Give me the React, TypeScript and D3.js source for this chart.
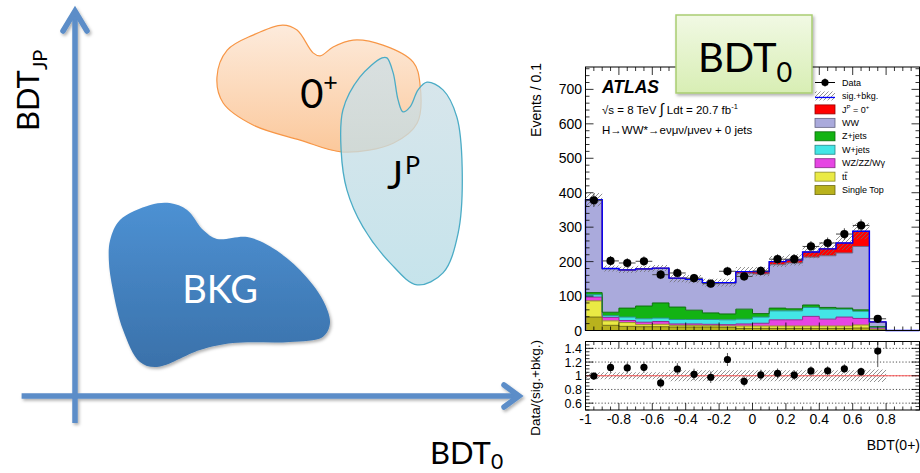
import React from "react";
import * as d3 from "d3";

// ---------- Schematic (BDT_0 vs BDT_JP plane), outlines in BDT score units ----------
const blobBkg: [number, number][] = [
  [0.079, 0.404], [0.101, 0.456], [0.169, 0.495], [0.213, 0.5], [0.252, 0.482],
  [0.288, 0.43], [0.319, 0.407], [0.387, 0.412], [0.445, 0.383], [0.506, 0.326],
  [0.557, 0.249], [0.573, 0.189], [0.557, 0.153], [0.483, 0.14], [0.355, 0.137],
  [0.281, 0.119], [0.184, 0.075], [0.146, 0.088], [0.108, 0.171], [0.085, 0.275],
  [0.076, 0.352],
];
const blob0p: [number, number][] = [
  [0.319, 0.826], [0.342, 0.896], [0.4, 0.935], [0.467, 0.961], [0.499, 0.948],
  [0.535, 0.889], [0.551, 0.881], [0.58, 0.904], [0.625, 0.922], [0.692, 0.909],
  [0.76, 0.865], [0.775, 0.811], [0.769, 0.707], [0.715, 0.655], [0.602, 0.632],
  [0.506, 0.663], [0.4, 0.702], [0.333, 0.759],
];
const blobJP: [number, number][] = [
  [0.69, 0.876], [0.64, 0.826], [0.602, 0.741], [0.598, 0.637], [0.611, 0.534],
  [0.647, 0.438], [0.708, 0.345], [0.769, 0.288], [0.827, 0.319], [0.861, 0.422],
  [0.87, 0.593], [0.858, 0.723], [0.827, 0.793], [0.791, 0.813], [0.771, 0.793],
  [0.753, 0.749], [0.737, 0.736], [0.726, 0.767], [0.715, 0.837], [0.701, 0.876],
];

// ---------- Histogram: BDT(0+) distribution, 0.1-wide bins ----------
const binLowEdges = [-1.0, -0.9, -0.8, -0.7, -0.6, -0.5, -0.4, -0.3, -0.2, -0.1, 0.0, 0.1, 0.2, 0.3, 0.4, 0.5, 0.6, 0.7];
const binWidth = 0.1;
const dataCounts = [378, 202, 196, 201, 162, 167, 152, 136, 172, 157, 173, 207, 207, 244, 254, 280, 305, 34];
const singleTop = [39, 15, 12, 11, 11, 10, 10, 10, 9, 6, 6, 6, 6, 6, 6, 6, 7, 2];
const ttbar = [47, 13, 11, 6, 7, 5, 5, 4, 4, 7, 7, 7, 7, 7, 7, 7, 9, 2];
const diboson = [11, 10, 6, 7, 8, 4, 4, 4, 4, 6, 8, 18, 18, 28, 20, 26, 19, 4];
const wJets = [7, 5, 10, 10, 10, 13, 13, 14, 14, 14, 18, 26, 26, 26, 29, 23, 21, 2];
const zJets = [6, 10, 26, 37, 44, 36, 27, 19, 17, 29, 10, 8, 6, 7, 5, 3, 4, 1];
const wwBkg = [269, 126, 110, 107, 100, 83, 89, 87, 89, 104, 115, 126, 133, 139, 150, 160, 184, 13];
const signal0p = [1, 1, 1, 1, 1, 1, 1, 1, 2, 5, 7, 9, 9, 15, 20, 29, 44, 1];
const relSyst = [0.05, 0.05, 0.05, 0.05, 0.05, 0.08, 0.08, 0.08, 0.08, 0.08, 0.08, 0.08, 0.08, 0.08, 0.08, 0.08, 0.08, 0.09];

const mainYTicks = [0, 100, 200, 300, 400, 500, 600, 700];
const ratioYTicks = [0.6, 0.8, 1, 1.2, 1.4];
const ratioYLabels = ["0.6", "0.8", "1", "1.2", "1.4"];
const xTicks = [-1, -0.8, -0.6, -0.4, -0.2, 0, 0.2, 0.4, 0.6, 0.8];
const xTickLabels = ["-1", "-0.8", "-0.6", "-0.4", "-0.2", "0", "0.2", "0.4", "0.6", "0.8"];

const stackKeys = ["singleTop", "ttbar", "diboson", "wJets", "zJets", "ww", "signal"];
const stackColors: Record<string, string> = {
  singleTop: "#b9b21d",
  ttbar: "#eaea44",
  diboson: "#e645e3",
  wJets: "#43e6e6",
  zJets: "#13b313",
  ww: "#aaaadc",
  signal: "#ff0000",
};
const legendRows = [
  { key: "data", label: "Data" },
  { key: "total", label: "sig.+bkg." },
  { key: "signal", label: "JP0" },
  { key: "ww", label: "WW" },
  { key: "zJets", label: "Z+jets" },
  { key: "wJets", label: "W+jets" },
  { key: "diboson", label: "WZ/ZZ/W\u03b3" },
  { key: "ttbar", label: "tt" },
  { key: "singleTop", label: "Single Top" },
];

const ROOT_FONT = "'Liberation Sans', Arial, Helvetica, sans-serif";
const SLIDE_FONT = "Lato, 'Open Sans', sans-serif";

export default function App() {
  // schematic scales
  const sx = d3.scaleLinear().domain([0, 1]).range([75, 520]);
  const sy = d3.scaleLinear().domain([0, 1]).range([396, 10]);
  const blobPath = d3
    .line<[number, number]>()
    .x((d) => sx(d[0]))
    .y((d) => sy(d[1]))
    .curve(d3.curveCatmullRomClosed.alpha(0.5));

  // histogram scales
  const x = d3.scaleLinear().domain([-1, 1]).range([585.5, 919.5]);
  const yM = d3.scaleLinear().domain([0, 765]).range([330.5, 67]);
  const yR = d3.scaleLinear().domain([0.5, 1.5]).range([410, 341.5]);

  const table = binLowEdges.map((lo, i) => ({
    lo,
    singleTop: singleTop[i],
    ttbar: ttbar[i],
    diboson: diboson[i],
    wJets: wJets[i],
    zJets: zJets[i],
    ww: wwBkg[i],
    signal: signal0p[i],
  }));
  const series = d3.stack<any>().keys(stackKeys)(table);
  const totals = table.map((_, i) => series[series.length - 1][i][1]);
  const lastEdge = binLowEdges[binLowEdges.length - 1] + binWidth;

  type StepPt = { e: number; a: number; b: number };
  const withEnd = (pts: StepPt[]) => [...pts, { ...pts[pts.length - 1], e: lastEdge }];

  const stepArea = (yScale: d3.ScaleLinear<number, number>) =>
    d3
      .area<StepPt>()
      .x((d) => x(d.e))
      .y0((d) => yScale(d.a))
      .y1((d) => yScale(d.b))
      .curve(d3.curveStepAfter);
  const stepLine = d3
    .line<StepPt>()
    .x((d) => x(d.e))
    .y((d) => yM(d.b))
    .curve(d3.curveStepAfter);

  const layerPts = series.map((s) =>
    withEnd(s.map((d, i) => ({ e: binLowEdges[i], a: d[0], b: d[1] })))
  );

  const bandPts = withEnd(
    totals.map((t, i) => ({ e: binLowEdges[i], a: t * (1 - relSyst[i]), b: t * (1 + relSyst[i]) }))
  );
  const ratioBandPts = withEnd(
    totals.map((_, i) => ({ e: binLowEdges[i], a: 1 - relSyst[i], b: 1 + relSyst[i] }))
  );

  const totalOutline: StepPt[] = [
    { e: -1, a: 0, b: 0 },
    ...totals.map((t, i) => ({ e: binLowEdges[i], a: 0, b: t })),
    { e: lastEdge, a: 0, b: 0 },
    { e: 1, a: 0, b: 0 },
  ];

  const minorX = d3.range(-1, 1.0001, 0.05);
  const minorYM = d3.range(0, 765, 20);
  const minorYR = d3.range(0.5, 1.5001, 0.05);

  const legendY0 = 82.5;
  const legendDy = 13.45;

  const tick = (k: string, x1: number, y1: number, x2: number, y2: number) => (
    <line key={k} x1={x1} y1={y1} x2={x2} y2={y2} stroke="#000" strokeWidth={0.8} />
  );

  return (
    <svg
      width={920}
      height={473}
      style={{ position: "absolute", left: 0, top: 0, background: "#fff" }}
      xmlns="http://www.w3.org/2000/svg"
    >
      <defs>
        <linearGradient id="gBkg" x1="0" y1="0" x2="0" y2="1">
          <stop offset="0" stopColor="#4d91d3" />
          <stop offset="1" stopColor="#3a71aa" />
        </linearGradient>
        <linearGradient id="g0p" x1="0" y1="0" x2="0" y2="1">
          <stop offset="0" stopColor="#fdebdc" />
          <stop offset="1" stopColor="#fbc89b" />
        </linearGradient>
        <linearGradient id="gJP" x1="0" y1="0" x2="0" y2="1">
          <stop offset="0" stopColor="#cfdfe6" />
          <stop offset="1" stopColor="#b6dce6" />
        </linearGradient>
        <linearGradient id="gBox" x1="0" y1="0" x2="0" y2="1">
          <stop offset="0" stopColor="#f1f9e4" />
          <stop offset="1" stopColor="#d8eeb4" />
        </linearGradient>
        <filter id="shadow" x="-20%" y="-20%" width="140%" height="140%">
          <feDropShadow dx="1.5" dy="2" stdDeviation="1.5" floodColor="#000" floodOpacity="0.3" />
        </filter>
        <pattern id="hatch" patternUnits="userSpaceOnUse" width="4" height="4">
          <path d="M-1,1 l2,-2 M0,4 l4,-4 M3,5 l2,-2" stroke="#6e6e6e" strokeWidth={0.75} />
        </pattern>
        <clipPath id="ratioClip">
          <rect x={x(-1)} y={yR(1.5)} width={x(1) - x(-1)} height={yR(0.5) - yR(1.5)} />
        </clipPath>
      </defs>

      {/* ================= Schematic plane ================= */}
      <g filter="url(#shadow)" stroke="#5b8dc8" strokeWidth={5.5} fill="none" strokeLinecap="butt">
        <line x1={sx(0)} y1={sy(-0.07)} x2={sx(0)} y2={sy(1) + 3} />
        <line x1={sx(-0.12)} y1={sy(0)} x2={sx(1) - 3} y2={sy(0)} />
        <polyline
          points={`${sx(0) - 12},${sy(1) + 21} ${sx(0)},${sy(1) + 1} ${sx(0) + 12},${sy(1) + 21}`}
          strokeLinejoin="miter"
          strokeLinecap="round"
        />
        <polyline
          points={`${sx(1) - 16},${sy(0) - 11} ${sx(1) - 1},${sy(0)} ${sx(1) - 16},${sy(0) + 11}`}
          strokeLinejoin="miter"
          strokeLinecap="round"
        />
      </g>

      <path d={blobPath(blob0p) || ""} fill="url(#g0p)" stroke="#f79646" strokeWidth={1.2} />
      <path d={blobPath(blobJP) || ""} fill="url(#gJP)" fillOpacity={0.78} stroke="#4bacc6" strokeWidth={1.3} />
      <path d={blobPath(blobBkg) || ""} fill="url(#gBkg)" filter="url(#shadow)" />

      <text x={sx(0.326)} y={sy(0.241)} fill="#fff" fontFamily={SLIDE_FONT} fontSize={38} textAnchor="middle">
        BKG
      </text>
      <text x={sx(0.506)} y={sy(0.746)} fill="#000" fontFamily={SLIDE_FONT} fontSize={40}>
        0<tspan fontSize={25} dy={-17}>+</tspan>
      </text>
      <text x={sx(0.701)} y={sy(0.535)} fill="#000" fontFamily={SLIDE_FONT} fontSize={38}>
        J<tspan fontSize={25} dy={-15} dx={2}>P</tspan>
      </text>

      <text transform="translate(39,131) rotate(-90)" fill="#000" fontFamily={SLIDE_FONT} fontSize={31}>
        BDT<tspan fontSize={20} dy={8}>JP</tspan>
      </text>
      <text x={430} y={464} fill="#000" fontFamily={SLIDE_FONT} fontSize={31}>
        BDT<tspan fontSize={21} dy={5}>0</tspan>
      </text>

      {/* ================= Main histogram panel ================= */}
      <g>
        {series.map((s, li) => (
          <path key={`a${s.key}`} d={stepArea(yM)(layerPts[li]) || ""} fill={stackColors[s.key]} />
        ))}
        {series.map((s, li) => (
          <path
            key={`l${s.key}`}
            d={stepLine(layerPts[li]) || ""}
            fill="none"
            stroke={d3.color(stackColors[s.key])!.darker(1.3).formatHex()}
            strokeWidth={1}
          />
        ))}
        <path d={stepArea(yM)(bandPts) || ""} fill="url(#hatch)" />
        <path d={stepLine(totalOutline) || ""} fill="none" stroke="#0000ff" strokeWidth={1.4} />

        {dataCounts.map((n, i) => {
          const c = binLowEdges[i] + binWidth / 2;
          const e = Math.sqrt(n);
          return (
            <g key={`d${i}`}>
              <line x1={x(binLowEdges[i])} x2={x(binLowEdges[i] + binWidth)} y1={yM(n)} y2={yM(n)} stroke="#444" strokeWidth={1} />
              <line x1={x(c)} x2={x(c)} y1={yM(n - e)} y2={yM(n + e)} stroke="#444" strokeWidth={1} />
              <circle cx={x(c)} cy={yM(n)} r={4.1} fill="#000" />
            </g>
          );
        })}

        {/* frame and ticks */}
        <rect x={x(-1)} y={yM(765)} width={x(1) - x(-1)} height={yM(0) - yM(765)} fill="none" stroke="#000" strokeWidth={1} />
        {minorX.map((v, i) => {
          const major = Math.abs(v * 5 - Math.round(v * 5)) < 1e-6;
          const len = major ? 8 : 4;
          return (
            <g key={`mx${i}`}>
              {tick("b", x(v), yM(0), x(v), yM(0) - len)}
              {tick("t", x(v), yM(765), x(v), yM(765) + len)}
            </g>
          );
        })}
        {minorYM.map((v, i) => {
          const len = v % 100 === 0 ? 8 : 4;
          return (
            <g key={`my${i}`}>
              {tick("l", x(-1), yM(v), x(-1) + len, yM(v))}
              {tick("r", x(1), yM(v), x(1) - len, yM(v))}
            </g>
          );
        })}
        {mainYTicks.map((v) => (
          <text key={`yl${v}`} x={582} y={yM(v)} dy="0.36em" textAnchor="end" fontFamily={ROOT_FONT} fontSize={14}>
            {v}
          </text>
        ))}
        <text transform={`translate(541,63) rotate(-90)`} textAnchor="end" fontFamily={ROOT_FONT} fontSize={14}>
          Events / 0.1
        </text>

        {/* labels */}
        <text x={602} y={92.5} fontFamily={ROOT_FONT} fontSize={17.5} fontWeight="bold" fontStyle="italic">
          ATLAS
        </text>
        <text x={602} y={114} fontFamily={ROOT_FONT} fontSize={11.5}>
          {"\u221as = 8 TeV "}
          <tspan fontSize={15}>{"\u222b"}</tspan>
          {" Ldt = 20.7 fb"}
          <tspan fontSize={7.5} dy={-5}>-1</tspan>
        </text>
        <text x={602} y={134} fontFamily={ROOT_FONT} fontSize={11.5}>
          {"H\u2192WW*\u2192e\u03bd\u03bc\u03bd/\u03bc\u03bde\u03bd + 0 jets"}
        </text>

        {/* legend */}
        {legendRows.map((r, i) => {
          const cy = legendY0 + i * legendDy;
          let sym: React.ReactNode;
          if (r.key === "data") {
            sym = (
              <g>
                <line x1={815} x2={835} y1={cy} y2={cy} stroke="#000" strokeWidth={1} />
                <line x1={825} x2={825} y1={cy - 4} y2={cy + 4} stroke="#000" strokeWidth={1} />
                <circle cx={825} cy={cy} r={3.6} fill="#000" />
              </g>
            );
          } else if (r.key === "total") {
            sym = (
              <g>
                <rect x={815} y={cy - 4.5} width={20} height={9} fill="url(#hatch)" />
                <line x1={815} x2={835} y1={cy + 1.5} y2={cy + 1.5} stroke="#0000ff" strokeWidth={1.3} />
              </g>
            );
          } else {
            sym = (
              <rect
                x={815}
                y={cy - 4.5}
                width={20}
                height={9}
                fill={stackColors[r.key]}
                stroke={d3.color(stackColors[r.key])!.darker(1.5).formatHex()}
                strokeWidth={0.8}
              />
            );
          }
          let label: React.ReactNode;
          if (r.key === "signal") {
            label = (
              <text x={842} y={cy} dy="0.35em" fontFamily={ROOT_FONT} fontSize={9}>
                J<tspan fontSize={6} dy={-4}>P</tspan>
                <tspan dy={4}>{" =  0"}</tspan>
                <tspan fontSize={6} dy={-4}>+</tspan>
              </text>
            );
          } else if (r.key === "ttbar") {
            label = (
              <g>
                <text x={842} y={cy} dy="0.35em" fontFamily={ROOT_FONT} fontSize={9}>
                  {r.label}
                </text>
                <line x1={844.6} x2={847.6} y1={cy - 4.4} y2={cy - 4.4} stroke="#000" strokeWidth={0.7} />
              </g>
            );
          } else {
            label = (
              <text x={842} y={cy} dy="0.35em" fontFamily={ROOT_FONT} fontSize={9}>
                {r.label}
              </text>
            );
          }
          return (
            <g key={`lg${i}`}>
              {sym}
              {label}
            </g>
          );
        })}
      </g>

      {/* ================= Ratio panel ================= */}
      <g>
        {ratioYTicks.map((v) => (
          <line key={`g${v}`} x1={x(-1)} x2={x(1)} y1={yR(v)} y2={yR(v)} stroke="#000" strokeWidth={0.7} strokeDasharray="1.2,2" />
        ))}
        <path d={stepArea(yR)(ratioBandPts) || ""} fill="url(#hatch)" />
        <line x1={x(-1)} x2={x(1)} y1={yR(1)} y2={yR(1)} stroke="#ff5a5a" strokeWidth={1} />
        <g clipPath="url(#ratioClip)">
          {dataCounts.map((n, i) => {
            const c = binLowEdges[i] + binWidth / 2;
            const r = n / totals[i];
            const e = Math.sqrt(n) / totals[i];
            return (
              <g key={`r${i}`}>
                <line x1={x(c)} x2={x(c)} y1={yR(r - e)} y2={yR(r + e)} stroke="#555" strokeWidth={1} />
                <circle cx={x(c)} cy={yR(r)} r={3.6} fill="#000" />
              </g>
            );
          })}
        </g>
        <rect x={x(-1)} y={yR(1.5)} width={x(1) - x(-1)} height={yR(0.5) - yR(1.5)} fill="none" stroke="#000" strokeWidth={1} />
        {minorX.map((v, i) => {
          const major = Math.abs(v * 5 - Math.round(v * 5)) < 1e-6;
          const len = major ? 7 : 3.5;
          return (
            <g key={`rx${i}`}>
              {tick("b", x(v), yR(0.5), x(v), yR(0.5) - len)}
              {tick("t", x(v), yR(1.5), x(v), yR(1.5) + len)}
            </g>
          );
        })}
        {minorYR.map((v, i) => {
          const major = Math.abs(v * 5 - Math.round(v * 5)) < 1e-6;
          const len = major ? 8 : 4;
          return (
            <g key={`ry${i}`}>
              {tick("l", x(-1), yR(v), x(-1) + len, yR(v))}
              {tick("r", x(1), yR(v), x(1) - len, yR(v))}
            </g>
          );
        })}
        {ratioYTicks.map((v, i) => (
          <text key={`rl${v}`} x={582} y={yR(v)} dy="0.36em" textAnchor="end" fontFamily={ROOT_FONT} fontSize={12.5}>
            {ratioYLabels[i]}
          </text>
        ))}
        {xTicks.map((v, i) => (
          <text key={`xl${v}`} x={x(v)} y={424} textAnchor="middle" fontFamily={ROOT_FONT} fontSize={14}>
            {xTickLabels[i]}
          </text>
        ))}
        <text transform={`translate(540,340) rotate(-90)`} textAnchor="end" fontFamily={ROOT_FONT} fontSize={13.5}>
          Data/(sig.+bkg.)
        </text>
        <text x={920} y={450} textAnchor="end" fontFamily={ROOT_FONT} fontSize={14}>
          BDT(0+)
        </text>
      </g>

      {/* ================= Title box ================= */}
      <g filter="url(#shadow)">
        <rect x={676} y={15} width={136} height={78} fill="url(#gBox)" stroke="#a9cd72" strokeWidth={1.5} />
      </g>
      <text x={698} y={72} fontFamily={SLIDE_FONT} fontSize={40} fill="#000">
        BDT<tspan fontSize={27} dy={10}>0</tspan>
      </text>
    </svg>
  );
}
